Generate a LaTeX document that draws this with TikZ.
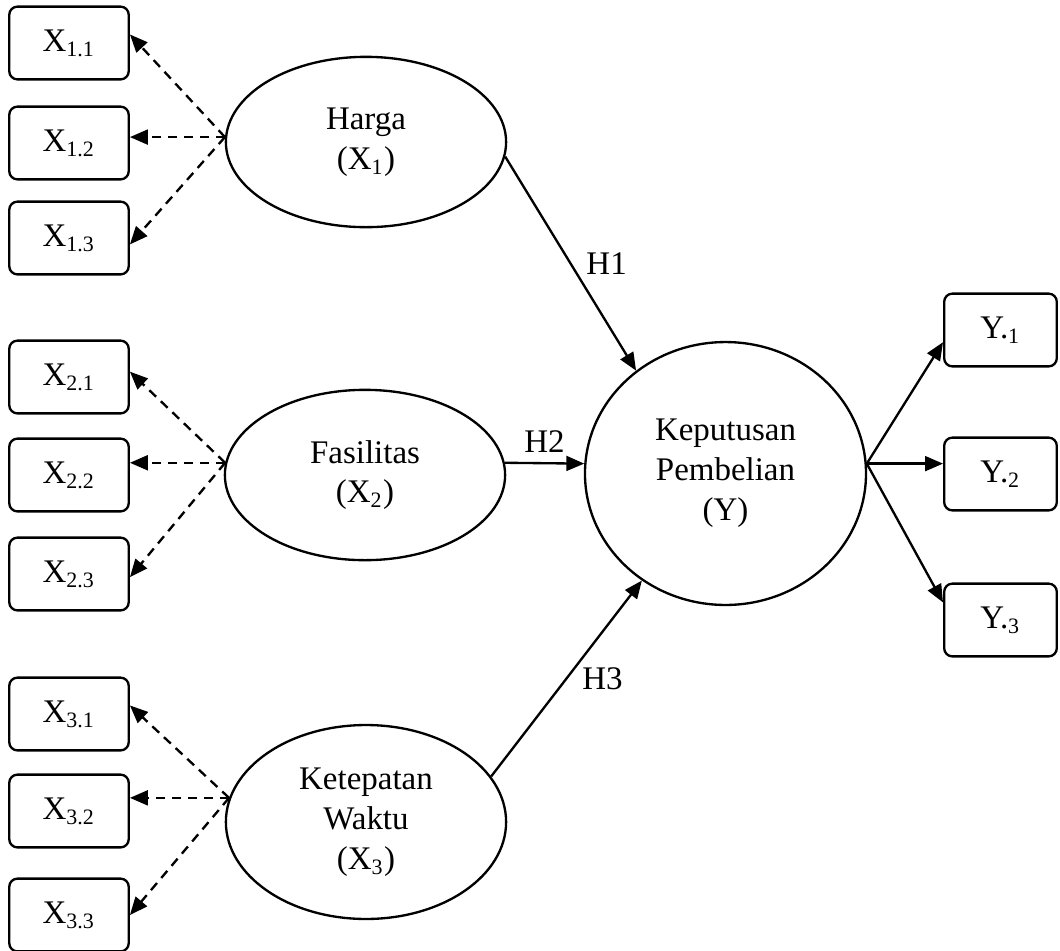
\documentclass[tikz,border=0pt]{standalone}
\usepackage{fontspec}
\setmainfont{Liberation Serif}
\usetikzlibrary{arrows.meta,shapes.geometric}

\begin{document}
\begin{tikzpicture}[x=0.364pt,y=-0.364pt,font=\fontsize{12}{14.5}\selectfont]
	\tikzstyle{indicator} = [rectangle, draw, rounded corners=3pt, line width=0.85pt, minimum width=43.5pt, minimum height=26.5pt, inner sep=0pt]
	\tikzstyle{latent} = [ellipse, draw, line width=0.85pt, minimum width=102pt, minimum height=62pt, align=center, inner sep=0pt]
	\tikzstyle{effect} = [line width=0.85pt, -{Triangle[length=6.5pt,width=5.4pt]}]
	\tikzstyle{loading} = [effect, dash pattern=on 3.4pt off 2.4pt]

	\useasboundingbox (0,0) rectangle (1060,950);

	% Harga
	\node (Harga) [latent] at (366,142) {Harga\\(X\textsubscript{1})};
	\node (X11) [indicator] at (69,43) {X\textsubscript{1.1}};
	\node (X12) [indicator] at (69,143) {X\textsubscript{1.2}};
	\node (X13) [indicator] at (69,238) {X\textsubscript{1.3}};

	% Fasilitas
	\node (Fasilitas) [latent] at (365,475) {Fasilitas\\(X\textsubscript{2})};
	\node (X21) [indicator] at (69,377) {X\textsubscript{2.1}};
	\node (X22) [indicator] at (69,475) {X\textsubscript{2.2}};
	\node (X23) [indicator] at (69,574) {X\textsubscript{2.3}};

	% Ketepatan waktu
	\node (Ketepatan) [latent, minimum height=70.6pt] at (366,822) {Ketepatan\\Waktu\\(X\textsubscript{3})};
	\node (X31) [indicator] at (69,714) {X\textsubscript{3.1}};
	\node (X32) [indicator] at (69,811) {X\textsubscript{3.2}};
	\node (X33) [indicator] at (69,915) {X\textsubscript{3.3}};

	% Keputusan pembelian
	\node (Y) [latent, minimum width=102.3pt, minimum height=95.7pt] at (725.5,473.5) {Keputusan\\Pembelian\\(Y)};
	\node (Y1) [indicator, minimum width=41pt] at (1000.5,330) {Y.\textsubscript{1}};
	\node (Y2) [indicator, minimum width=41pt] at (1000.5,474) {Y.\textsubscript{2}};
	\node (Y3) [indicator, minimum width=41pt] at (1000.5,620) {Y.\textsubscript{3}};

	% Loadings
	\draw[loading] (Harga.178) -- (X11.8);
	\draw[loading] (Harga.178) -- (Harga.178 -| X12.east);
	\draw[loading] (Harga.178) -- (X13.-6);
	\draw[loading] (Fasilitas.175) -- (X21.5);
	\draw[loading] (Fasilitas.175) -- (Fasilitas.175 -| X22.east);
	\draw[loading] (Fasilitas.175) -- (X23.-3);
	\draw[loading] (Ketepatan.170) -- (X31.8);
	\draw[loading] (Ketepatan.170) -- (Ketepatan.170 -| X32.east);
	\draw[loading] (Ketepatan.170) -- (X33.east);
	\draw[effect] (Y.4) -- (Y1.192);
	\draw[effect] (Y.4) -- (Y.4 -| Y2.west);
	\draw[effect] (Y.4) -- (Y3.163);

	% Hypotheses
	\draw[effect] (Harga.-6) -- node[right=2pt] {H1} (Y.131);
	\draw[effect] (Fasilitas.5) -- node[above] {H2} (Y.176);
	\draw[effect] (Ketepatan.20) -- node[right=2pt] {H3} (Y.-128);
\end{tikzpicture}
\end{document}
